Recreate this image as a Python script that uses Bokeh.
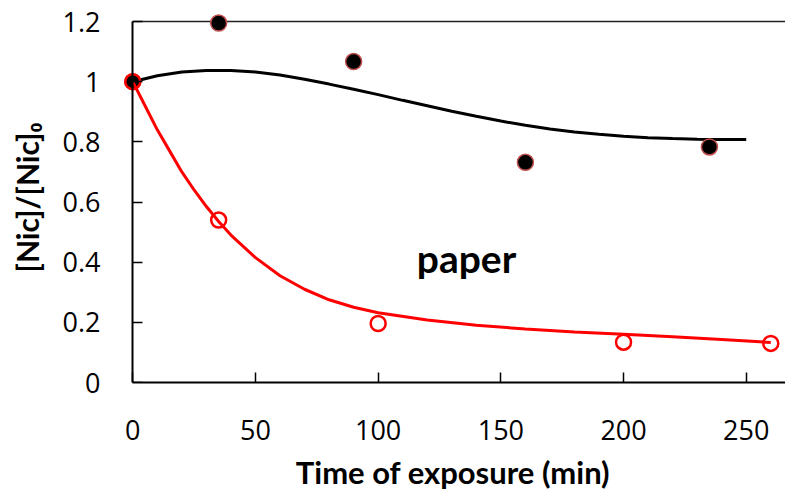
from bokeh.plotting import figure
from bokeh.models import Range1d, FixedTicker, Label, LinearAxis
from bokeh.embed import file_html
from bokeh.resources import INLINE

# measured points
paper_dark_x = [0, 35, 90, 160, 235]
paper_dark_y = [1.0, 1.195, 1.067, 0.732, 0.783]
paper_light_x = [0, 35, 100, 200, 260]
paper_light_y = [1.0, 0.54, 0.196, 0.134, 0.13]

# fitted curves
fit_dark_x = [0, 10, 20, 30, 40, 50, 60, 70, 80, 90, 100, 110, 120, 130, 140,
              150, 160, 170, 180, 190, 200, 210, 220, 230, 240, 250]
fit_dark_y = [1.000, 1.020, 1.032, 1.037, 1.037, 1.032, 1.022, 1.008, 0.992,
              0.975, 0.957, 0.938, 0.920, 0.902, 0.885, 0.869, 0.855, 0.843,
              0.833, 0.825, 0.819, 0.814, 0.811, 0.809, 0.808, 0.808]
fit_light_x = [0, 5, 10, 15, 20, 25, 30, 35, 40, 50, 60, 70, 80, 90, 100, 120,
               140, 160, 180, 200, 220, 240, 260]
fit_light_y = [1.0, 0.92, 0.84, 0.77, 0.70, 0.64, 0.585, 0.535, 0.49, 0.415,
               0.355, 0.31, 0.275, 0.25, 0.232, 0.208, 0.19, 0.178, 0.168,
               0.16, 0.152, 0.143, 0.133]

x_ticks = [0, 50, 100, 150, 200, 250]
y_ticks = [0, 0.2, 0.4, 0.6, 0.8, 1.0, 1.2]
x_max = 266
y_max = 1.2
x_title = "Time of exposure (min)"
y_title = "[Nic]/[Nic]\u2080"

TICK_FONT = "Open Sans"
TITLE_FONT = "Lato"

p = figure(width=785, height=493, output_backend="svg", toolbar_location=None,
           x_range=Range1d(-5, x_max), y_range=Range1d(0, 1.23),
           min_border_left=120, min_border_right=0, min_border_top=12,
           min_border_bottom=111)
p.outline_line_color = None
p.background_fill_color = "white"
p.border_fill_color = "white"
p.xgrid.visible = False
p.ygrid.visible = False

# x axis
xa = p.xaxis[0]
xa.axis_line_color = "black"
xa.axis_line_width = 2
xa.major_tick_in = 10
xa.major_tick_out = 0
xa.major_tick_line_color = "black"
xa.major_tick_line_width = 1.5
xa.minor_tick_line_color = None
xa.major_label_text_font = TICK_FONT
xa.major_label_text_font_size = "27px"
xa.major_label_text_color = "black"
xa.ticker = FixedTicker(ticks=x_ticks)
xa.bounds = (0, x_max)
xa.major_label_standoff = 37
xa.axis_label = x_title
xa.axis_label_text_font = TITLE_FONT
xa.axis_label_text_font_style = "bold"
xa.axis_label_text_font_size = "31px"
xa.axis_label_text_color = "black"
xa.axis_label_standoff = 10

# y axis: labels only (at frame edge)
ya = p.yaxis[0]
ya.axis_line_color = None
ya.major_tick_line_color = None
ya.minor_tick_line_color = None
ya.major_tick_in = 0
ya.major_tick_out = 0
ya.major_label_text_font = TICK_FONT
ya.major_label_text_font_size = "27px"
ya.major_label_text_color = "black"
ya.major_label_overrides = {0: "0", 1: "1"}
ya.ticker = FixedTicker(ticks=y_ticks)
ya.bounds = (0, y_max)
ya.major_label_standoff = 20
ya.axis_label = y_title
ya.axis_label_text_font = TITLE_FONT
ya.axis_label_text_font_style = "bold"
ya.axis_label_text_font_size = "30px"
ya.axis_label_text_color = "black"
ya.axis_label_standoff = 15

# y axis line + inward ticks at x = 0
yline = LinearAxis(fixed_location=0, ticker=FixedTicker(ticks=y_ticks),
                   bounds=(0, y_max), axis_line_color="black",
                   axis_line_width=2, major_tick_in=10, major_tick_out=0,
                   major_tick_line_color="black", major_tick_line_width=1.5,
                   minor_tick_line_color=None, major_label_text_color=None,
                   major_label_text_font_size="1px", major_label_standoff=0)
p.add_layout(yline, "left")

# top border line at 1.2
p.segment(x0=[0], y0=[y_max], x1=[x_max], y1=[y_max], line_color="#222222",
          line_width=1.5)

p.line(fit_dark_x, fit_dark_y, line_color="black", line_width=3)
p.scatter(paper_dark_x, paper_dark_y, size=16, fill_color="black",
          line_color="#c0504d", line_width=1.5)
p.scatter(paper_light_x, paper_light_y, size=15, fill_color=None,
          line_color="#ff0000", line_width=2.5)
p.line(fit_light_x, fit_light_y, line_color="#ff0000", line_width=3)

p.add_layout(Label(x=136, y=0.413, text="paper", text_font=TITLE_FONT,
                   text_font_style="bold", text_font_size="39px",
                   text_align="center", text_baseline="alphabetic",
                   text_color="black"))

open("out.html", "w").write(file_html(p, INLINE))
